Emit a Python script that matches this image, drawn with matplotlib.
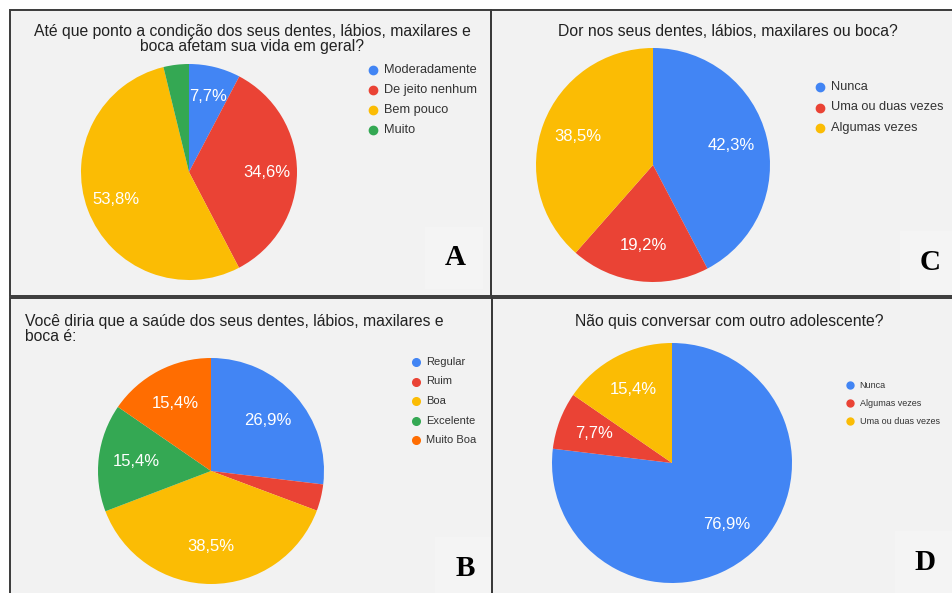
import matplotlib.pyplot as plt
from matplotlib.patches import Rectangle
from matplotlib.lines import Line2D

W, H = 952, 593
GOOGLE = ["#4285f4", "#ea4335", "#fbbc04", "#34a853", "#ff6d01"]
PANEL_BG = "#f2f2f2"

# ── data ────────────────────────────────────────────────────────────────
a_title = "Até que ponto a condição dos seus dentes, lábios, maxilares e\nboca afetam sua vida em geral?"
a_cats = ["Moderadamente", "De jeito nenhum", "Bem pouco", "Muito"]
a_vals = [7.7, 34.6, 53.8, 3.8]

b_title = "Você diria que a saúde dos seus dentes, lábios, maxilares e\nboca é:"
b_cats = ["Regular", "Ruim", "Boa", "Excelente", "Muito Boa"]
b_vals = [26.9, 3.8, 38.5, 15.4, 15.4]

c_title = "Dor nos seus dentes, lábios, maxilares ou boca?"
c_cats = ["Nunca", "Uma ou duas vezes", "Algumas vezes"]
c_vals = [42.3, 19.2, 38.5]

d_title = "Não quis conversar com outro adolescente?"
d_cats = ["Nunca", "Algumas vezes", "Uma ou duas vezes"]
d_vals = [76.9, 7.7, 15.4]

plt.rcParams["font.family"] = ["Liberation Sans", "DejaVu Sans"]


def fx(x):
    return x / W


def fy(y):
    return 1 - y / H


def pct_formatter(vals):
    total = sum(vals)

    def fmt(p):
        v = p * total / 100
        if v < 5:
            return ""
        return f"{v:.1f}%".replace(".", ",")
    return fmt


def panel(fig, box, title, title_pos, title_ha, cats, vals, center, radius,
          pctdist, leg_pos, leg_step, leg_fs, leg_ms, letter, letter_pos):
    x0, y0, x1, y1 = box
    rect = (fx(x0), fy(y1))
    fig.add_artist(Rectangle(rect, fx(x1 - x0), (y1 - y0) / H,
                             transform=fig.transFigure, facecolor=PANEL_BG,
                             edgecolor="none", zorder=0))
    # border drawn on top so the letter boxes never hide it
    fig.add_artist(Rectangle(rect, fx(x1 - x0), (y1 - y0) / H,
                             transform=fig.transFigure, facecolor="none",
                             edgecolor="#3a3a3a", linewidth=1.4, zorder=3))
    # faint lighter box behind the panel letter
    lx, ly = letter_pos
    fig.add_artist(Rectangle((fx(lx - 30), fy(ly + 31)), 58 / W, 62 / H,
                             transform=fig.transFigure, facecolor="#f4f4f4",
                             edgecolor="none", zorder=0.5))

    cx, cy = center
    ax = fig.add_axes([fx(cx - radius), fy(cy + radius), 2 * radius / W, 2 * radius / H])
    ax.pie(vals, colors=GOOGLE[:len(vals)], startangle=90, counterclock=False,
           autopct=pct_formatter(vals), pctdistance=pctdist,
           textprops=dict(color="white", fontsize=12))
    ax.set_xlim(-1, 1)
    ax.set_ylim(-1, 1)
    ax.set_aspect("equal")
    ax.axis("off")

    tx, ty = title_pos
    fig.text(fx(tx), fy(ty), title, ha=title_ha, va="top", fontsize=11.3,
             color="#222222", linespacing=1.02, multialignment=title_ha)

    mx, my = leg_pos
    for i, cat in enumerate(cats):
        yy = my + i * leg_step
        fig.add_artist(Line2D([fx(mx)], [fy(yy)], transform=fig.transFigure,
                              marker="o", markersize=leg_ms, linestyle="none",
                              color=GOOGLE[i]))
        fig.text(fx(mx + leg_ms * 1.9), fy(yy), cat, ha="left", va="center",
                 fontsize=leg_fs, color="#333333")

    fig.text(fx(lx), fy(ly), letter, ha="center", va="center", fontsize=21,
             fontweight="bold", family="Liberation Serif", color="black")


fig = plt.figure(figsize=(W / 100, H / 100), dpi=100)
fig.patch.set_facecolor("white")

panel(fig, (10, 10, 491, 296), a_title, (252, 24), "center", a_cats, a_vals,
      (189, 172), 108, 0.72, (373, 70), 20, 9.2, 6, "A", (455, 258))
panel(fig, (491, 10, 960, 296), c_title, (728, 24), "center", c_cats, c_vals,
      (653, 165), 117, 0.69, (820, 87), 20.5, 9.2, 6, "C", (930, 262))
panel(fig, (10, 298, 492, 600), b_title, (25, 314), "left", b_cats, b_vals,
      (211, 471), 113, 0.67, (416, 362), 19.5, 8, 5.5, "B", (465, 568))
panel(fig, (492, 298, 960, 600), d_title, (729, 314), "center", d_cats, d_vals,
      (672, 463), 120, 0.69, (850, 385), 18, 6.5, 5, "D", (925, 562))

fig.savefig("out.png", dpi=100, facecolor="white")
